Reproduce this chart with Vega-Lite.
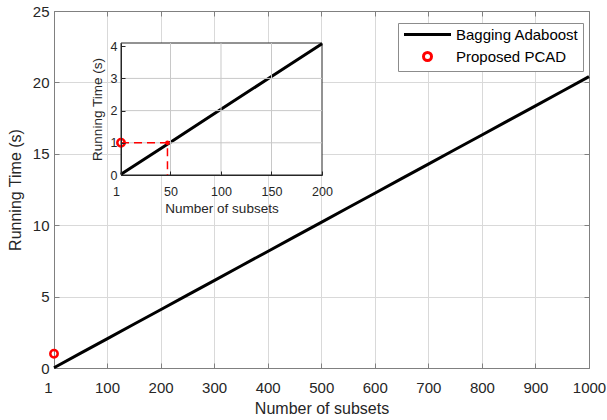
{
  "$schema": "https://vega.github.io/schema/vega-lite/v6.json",
  "width": 535,
  "height": 357,
  "autosize": {"type": "none"},
  "padding": {"left": 54, "top": 11, "right": 18, "bottom": 52},
  "config": {
    "font": "Liberation Sans",
    "view": {"stroke": "#808080", "strokeWidth": 1},
    "axis": {"labelColor": "#262626", "titleColor": "#262626", "titleFontWeight": "normal", "labelFlush": false}
  },
  "datasets": {
    "adaboost": [
      {"subsets": 1, "time": 0.02, "series": "Bagging Adaboost"},
      {"subsets": 50, "time": 1.02, "series": "Bagging Adaboost"},
      {"subsets": 100, "time": 2.04, "series": "Bagging Adaboost"},
      {"subsets": 150, "time": 3.06, "series": "Bagging Adaboost"},
      {"subsets": 200, "time": 4.08, "series": "Bagging Adaboost"},
      {"subsets": 250, "time": 5.1, "series": "Bagging Adaboost"},
      {"subsets": 300, "time": 6.12, "series": "Bagging Adaboost"},
      {"subsets": 350, "time": 7.14, "series": "Bagging Adaboost"},
      {"subsets": 400, "time": 8.16, "series": "Bagging Adaboost"},
      {"subsets": 450, "time": 9.18, "series": "Bagging Adaboost"},
      {"subsets": 500, "time": 10.2, "series": "Bagging Adaboost"},
      {"subsets": 550, "time": 11.22, "series": "Bagging Adaboost"},
      {"subsets": 600, "time": 12.24, "series": "Bagging Adaboost"},
      {"subsets": 650, "time": 13.26, "series": "Bagging Adaboost"},
      {"subsets": 700, "time": 14.28, "series": "Bagging Adaboost"},
      {"subsets": 750, "time": 15.3, "series": "Bagging Adaboost"},
      {"subsets": 800, "time": 16.32, "series": "Bagging Adaboost"},
      {"subsets": 850, "time": 17.34, "series": "Bagging Adaboost"},
      {"subsets": 900, "time": 18.36, "series": "Bagging Adaboost"},
      {"subsets": 950, "time": 19.38, "series": "Bagging Adaboost"},
      {"subsets": 1000, "time": 20.4, "series": "Bagging Adaboost"}
    ],
    "pcad": [
      {"subsets": 1, "time": 1, "series": "Proposed PCAD"}
    ],
    "guide": [
      {"step": 1, "subsets": 1, "time": 1},
      {"step": 2, "subsets": 47, "time": 1},
      {"step": 3, "subsets": 47, "time": 0}
    ],
    "insetFrame": [
      {"x0": 1, "x1": 200, "y0": 0, "y1": 4.1}
    ],
    "insetGrid": [
      {"g": "x50", "step": 1, "subsets": 50, "time": 0},
      {"g": "x50", "step": 2, "subsets": 50, "time": 4.1},
      {"g": "x100", "step": 1, "subsets": 100, "time": 0},
      {"g": "x100", "step": 2, "subsets": 100, "time": 4.1},
      {"g": "x150", "step": 1, "subsets": 150, "time": 0},
      {"g": "x150", "step": 2, "subsets": 150, "time": 4.1},
      {"g": "y1", "step": 1, "subsets": 1, "time": 1},
      {"g": "y1", "step": 2, "subsets": 200, "time": 1},
      {"g": "y2", "step": 1, "subsets": 1, "time": 2},
      {"g": "y2", "step": 2, "subsets": 200, "time": 2},
      {"g": "y3", "step": 1, "subsets": 1, "time": 3},
      {"g": "y3", "step": 2, "subsets": 200, "time": 3}
    ]
  },
  "layer": [
    {
      "layer": [
        {
          "data": {"name": "adaboost"},
          "mark": {"type": "line", "strokeWidth": 3},
          "encoding": {
            "x": {
              "field": "subsets", "type": "quantitative",
              "scale": {"domain": [1, 1000], "nice": false, "zero": false},
              "axis": {
                "values": [1, 100, 200, 300, 400, 500, 600, 700, 800, 900, 1000],
                "format": "d", "grid": true,
                "title": "Number of subsets", "titleFontSize": 16, "labelFontSize": 15,
                "tickSize": -5, "labelPadding": 17, "titlePadding": 5,
                "domainColor": "#808080", "tickColor": "#808080", "gridColor": "#d9d9d9",
                "labelOffset": {"condition": {"test": "datum.value == 1", "value": -6}, "value": 0}
              }
            },
            "y": {
              "field": "time", "type": "quantitative",
              "scale": {"domain": [0, 25], "nice": false},
              "axis": {
                "values": [0, 5, 10, 15, 20, 25],
                "format": "d", "grid": true,
                "title": "Running Time (s)", "titleFontSize": 16, "labelFontSize": 15,
                "tickSize": -5, "labelPadding": 10, "titlePadding": 9,
                "domainColor": "#808080", "tickColor": "#808080", "gridColor": "#d9d9d9"
              }
            },
            "color": {
              "field": "series", "type": "nominal",
              "scale": {"domain": ["Bagging Adaboost", "Proposed PCAD"], "range": ["#000000", "#ff0000"]},
              "legend": {
                "orient": "none", "legendX": 344, "legendY": 12, "title": null,
                "strokeColor": "#8c8c8c", "fillColor": "white", "padding": 4,
                "labelFontSize": 15, "labelColor": "#000000",
                "symbolOffset": 18, "labelOffset": 21, "rowPadding": 3,
                "symbolType": "stroke", "symbolSize": 100, "symbolStrokeWidth": 3,
                "encode": {
                  "symbols": {
                    "update": {
                      "shape": {"signal": "datum.value === 'Proposed PCAD' ? 'M0.8,0A0.8,0.8,0,1,1,-0.8,0A0.8,0.8,0,1,1,0.8,0Z' : 'M-4.7,0L4.7,0'"},
                      "fill": {"value": "transparent"}
                    }
                  }
                }
              }
            }
          }
        },
        {
          "data": {"name": "pcad"},
          "mark": {"type": "point", "filled": false, "strokeWidth": 2.5, "size": 55, "opacity": 1},
          "encoding": {
            "x": {"field": "subsets", "type": "quantitative"},
            "y": {"field": "time", "type": "quantitative"},
            "color": {"field": "series", "type": "nominal"}
          }
        }
      ]
    },
    {
      "data": {"name": "pcad"},
      "mark": {"type": "point", "opacity": 0},
      "encoding": {
        "x": {
          "field": "subsets", "type": "quantitative",
          "scale": {"domain": [1, 1000], "nice": false, "zero": false},
          "axis": {
            "orient": "top", "values": [1, 100, 200, 300, 400, 500, 600, 700, 800, 900, 1000],
            "labels": false, "grid": false, "title": null, "tickSize": -5,
            "domainColor": "#808080", "tickColor": "#808080"
          }
        },
        "y": {
          "field": "time", "type": "quantitative",
          "scale": {"domain": [0, 25], "nice": false},
          "axis": {
            "orient": "right", "values": [0, 5, 10, 15, 20, 25],
            "labels": false, "grid": false, "title": null, "tickSize": -5,
            "domainColor": "#808080", "tickColor": "#808080"
          }
        }
      }
    },
    {
      "layer": [
        {
          "data": {"name": "insetFrame"},
          "mark": {"type": "rect", "fill": "white", "stroke": "#262626", "strokeWidth": 1},
          "encoding": {
            "x": {
              "field": "x0", "type": "quantitative",
              "scale": {"domain": [1, 200], "range": [67, 268], "nice": false, "zero": false},
              "axis": {
                "orient": "bottom", "offset": -193, "zindex": 1,
                "values": [1, 50, 100, 150, 200], "format": "d", "grid": false,
                "title": "Number of subsets", "titleFontSize": 13.5, "labelFontSize": 12.5,
                "tickSize": -4, "labelPadding": 14, "titlePadding": 4,
                "domainColor": "#262626", "tickColor": "#262626",
                "labelOffset": {"condition": {"test": "datum.value == 1", "value": -5}, "value": 0}
              }
            },
            "x2": {"field": "x1"},
            "y": {
              "field": "y0", "type": "quantitative",
              "scale": {"domain": [0, 4.1], "range": [164, 32], "nice": false},
              "axis": {
                "orient": "left", "offset": -67, "zindex": 1,
                "values": [0, 1, 2, 3, 4], "format": "d", "grid": false,
                "title": "Running Time (s)", "titleFontSize": 13.5, "labelFontSize": 12.5,
                "tickSize": -4, "labelPadding": 8, "titlePadding": 6,
                "domainColor": "#262626", "tickColor": "#262626"
              }
            },
            "y2": {"field": "y1"}
          }
        },
        {
          "data": {"name": "adaboost"},
          "transform": [{"filter": "datum.subsets <= 200"}],
          "mark": {"type": "line", "strokeWidth": 3, "color": "#000000"},
          "encoding": {
            "x": {"field": "subsets", "type": "quantitative"},
            "y": {"field": "time", "type": "quantitative"}
          }
        },
        {
          "data": {"name": "insetGrid"},
          "mark": {"type": "line", "stroke": "#c8c8c8", "strokeWidth": 1, "strokeOpacity": 1},
          "encoding": {
            "x": {"field": "subsets", "type": "quantitative"},
            "y": {"field": "time", "type": "quantitative"},
            "detail": {"field": "g", "type": "nominal"},
            "order": {"field": "step", "type": "quantitative"}
          }
        },
        {
          "data": {"name": "guide"},
          "mark": {"type": "line", "color": "#ff0000", "strokeWidth": 1.5, "strokeDash": [8, 5]},
          "encoding": {
            "x": {"field": "subsets", "type": "quantitative"},
            "y": {"field": "time", "type": "quantitative"},
            "order": {"field": "step", "type": "quantitative"}
          }
        },
        {
          "data": {"name": "guide"},
          "transform": [{"filter": "datum.step == 2"}],
          "mark": {"type": "point", "filled": true, "color": "#ff0000", "size": 22, "opacity": 1},
          "encoding": {
            "x": {"field": "subsets", "type": "quantitative"},
            "y": {"field": "time", "type": "quantitative"}
          }
        },
        {
          "data": {"name": "pcad"},
          "mark": {"type": "point", "filled": false, "color": "#ff0000", "strokeWidth": 2.5, "size": 55, "opacity": 1},
          "encoding": {
            "x": {"field": "subsets", "type": "quantitative"},
            "y": {"field": "time", "type": "quantitative"}
          }
        }
      ]
    }
  ],
  "resolve": {"scale": {"x": "independent", "y": "independent"}}
}
